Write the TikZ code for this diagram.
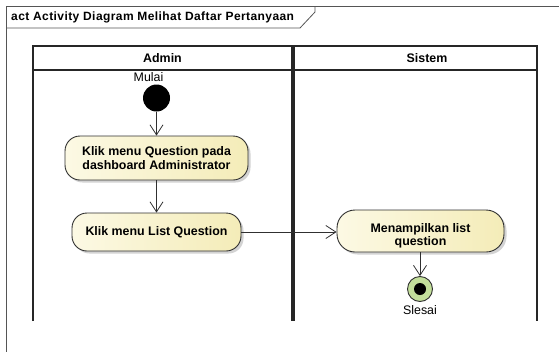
\documentclass[tikz,border=0pt]{standalone}
\usepackage{fontspec}
\setmainfont{Liberation Sans}
\usetikzlibrary{arrows.meta,shadows}
\definecolor{edge}{HTML}{303030}
\definecolor{actL}{HTML}{FCF9E4}
\definecolor{actR}{HTML}{F4ECB8}
\definecolor{endfill}{HTML}{C3DF9B}
\definecolor{framec}{HTML}{555555}
\begin{document}
\begin{tikzpicture}[x=1pt,y=-1pt,
  action/.style={draw=edge, line width=0.9pt, rounded corners=15pt,
    left color=actL, right color=actR,
    drop shadow={shadow xshift=2.5pt,shadow yshift=-2.5pt,opacity=0.35,fill=gray},
    font=\fontsize{12.4}{14}\selectfont\bfseries, align=center, inner sep=0pt},
  flow/.style={draw=edge, line width=0.8pt, -{Straight Barb[length=10pt,width=13pt]}},
  lane/.style={draw=black!85, line width=1.1pt},
  lanehead/.style={font=\fontsize{12.4}{14}\selectfont\bfseries},
  caption/.style={font=\fontsize{12.4}{14}\selectfont, inner sep=0pt}
]
\useasboundingbox (0,0) rectangle (559,351);

% diagram frame and its name tab
\draw[framec, line width=1pt] (6,352) -- (6,6) -- (560,6);
\draw[framec, line width=0.8pt] (6,28) -- (300,28) -- (315,12) -- (315,6);
\node[anchor=west, inner sep=0pt, font=\fontsize{12}{13}\selectfont\bfseries\addfontfeature{LetterSpace=3.5}] (title) at (11,17.5)
  {act Activity Diagram Melihat Daftar Pertanyaan};

% swimlanes (open at the bottom)
\draw[lane] (33,321) -- (33,46) -- (292,46) -- (292,321);
\draw[lane] (33,70) -- (292,70);
\draw[lane] (294,321) -- (294,46) -- (537,46) -- (537,321);
\draw[lane] (294,70) -- (537,70);
\node[lanehead] (hadmin) at (162.5,58) {Admin};
\node[lanehead] (hsistem) at (427,58) {Sistem};

% start
\node[circle, fill=black, minimum size=27pt, inner sep=0pt] (start) at (156.5,98) {};
\node[caption] (mulai) at (148.5,77) {Mulai};

% actions
\node[action, minimum width=183pt, minimum height=44pt] (a1) at (156.5,158)
  {Klik menu Question pada\\dashboard Administrator};
\node[action, minimum width=169pt, minimum height=38pt] (a2) at (156.5,232)
  {Klik menu List Question};
\node[action, minimum width=167pt, minimum height=42pt, rounded corners=18pt] (a3) at (420.5,231)
  {\raisebox{-8.5pt}[0pt][0pt]{\begin{tabular}{@{}c@{}}Menampilkan list\\[-1pt]question\end{tabular}}};

% final
\node[circle, draw=edge, line width=0.9pt, fill=endfill, minimum size=25pt, inner sep=0pt] (end) at (420,289) {};
\node[circle, fill=black, minimum size=12pt, inner sep=0pt] (endin) at (end.center) {};
\node[caption] (slesai) at (420,310) {Slesai};

% control flows
\draw[flow] (start) -- (a1);
\draw[flow] (a1) -- (a2);
\draw[flow] (a2.east) -- (a2.east -| a3.west);
\draw[flow] (a3.south -| end) -- (end);
\end{tikzpicture}
\end{document}
